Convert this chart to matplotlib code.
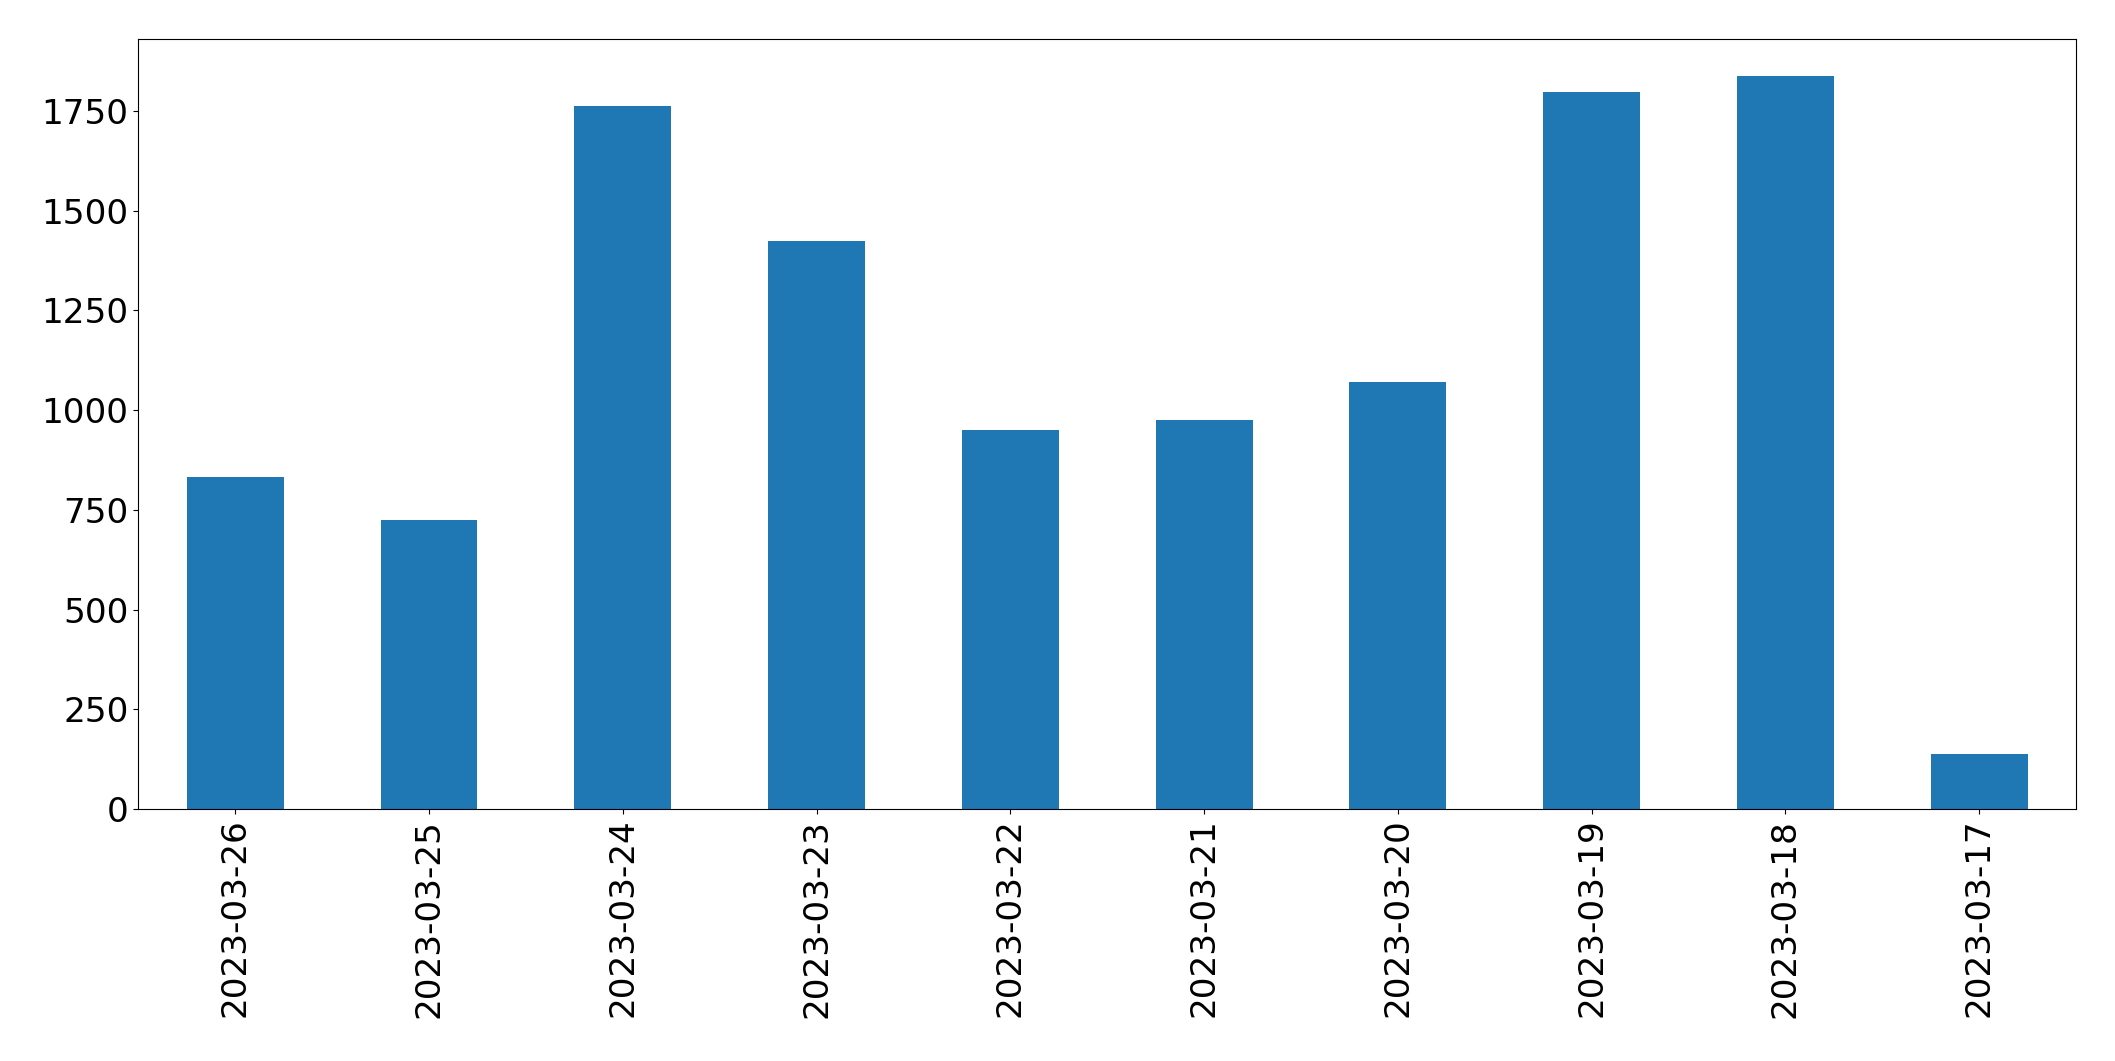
import matplotlib
matplotlib.use("Agg")
import matplotlib.pyplot as plt

dates = ["2023-03-26", "2023-03-25", "2023-03-24", "2023-03-23", "2023-03-22",
         "2023-03-21", "2023-03-20", "2023-03-19", "2023-03-18", "2023-03-17"]
counts = [832, 725, 1762, 1424, 950, 975, 1070, 1797, 1838, 138]

fig = plt.figure(figsize=(21.15, 10.61), dpi=100)
ax = fig.add_axes([0.0654, 0.2375, 0.9816 - 0.0654, 0.963 - 0.2375])
x = list(range(len(dates)))
ax.bar(x, counts, width=0.5, color="#1f77b4")
ax.set_xlim(-0.5, len(dates) - 0.5)
ax.set_ylim(0, max(counts) * 1.05)
ax.set_xticks(x)
ax.set_xticklabels(dates, rotation=90, fontsize=24.7)
ax.set_yticks([0, 250, 500, 750, 1000, 1250, 1500, 1750])
ax.tick_params(axis="y", labelsize=24.7)
fig.savefig("out.png", dpi=100)
